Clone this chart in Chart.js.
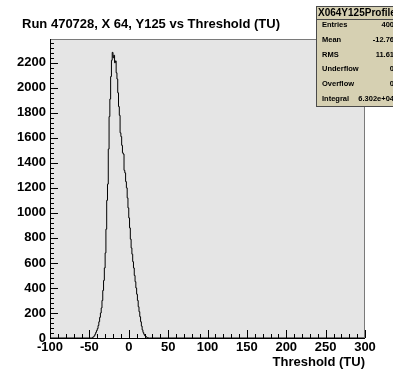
<!DOCTYPE html>
<html>
<head>
<meta charset="utf-8">
<script src="https://cdn.jsdelivr.net/npm/chart.js@4"></script>
<style>
  html, body { margin: 0; padding: 0; background: #ffffff; }
  #wrap { width: 393px; height: 377px; }
</style>
</head>
<body>
<div id="wrap"><canvas id="histo" width="393" height="377"></canvas></div>
<script>
// histogram: 1 TU wide bins, first bin low edge at -46
const firstBin = -46;
const counts = [
    0, 5, 10, 18, 30, 45, 60, 75, 100, 130,
    165, 200, 240, 300, 380, 460, 560, 680, 870, 1100,
    1230, 1510, 1770, 1910, 2090, 2220, 2283, 2240, 2260, 2200,
    2215, 2120, 2070, 1960, 1850, 1780, 1640, 1610, 1540, 1480,
    1470, 1340, 1320, 1250, 1200, 1120, 1040, 960, 880, 790,
    720, 670, 610, 560, 500, 450, 400, 350, 300, 250,
    210, 170, 130, 95, 65, 45, 30, 20, 14, 8,
    4, 2, 0
];
const xRange = [-100, 300];
const yRange = [0, 2390];
const xTicks = [-100, -50, 0, 50, 100, 150, 200, 250, 300];
const yTicks = [0, 200, 400, 600, 800, 1000, 1200, 1400, 1600, 1800, 2000, 2200];

const title = 'Run 470728, X 64, Y125 vs Threshold (TU)';
const xTitle = 'Threshold (TU)';
const statsName = 'X064Y125Profile';
const statsLabels = ['Entries', 'Mean', 'RMS', 'Underflow', 'Overflow', 'Integral'];
const statsValues = ['400', '-12.76', '11.61', '0', '0', '6.302e+04'];

const points = [{ x: xRange[0], y: 0 }];
counts.forEach(function (c, i) {
    points.push({ x: firstBin + i, y: c });
});
points.push({ x: xRange[1], y: 0 });

const FONT = '"Liberation Sans", Arial, Helvetica, sans-serif';

const rootFrame = {
    id: 'rootFrame',
    beforeDatasetsDraw(chart) {
        const a = chart.chartArea;
        const ctx = chart.ctx;
        ctx.save();
        ctx.fillStyle = '#e5e5e5';
        ctx.fillRect(a.left, a.top, a.right - a.left, a.bottom - a.top);
        ctx.restore();
    },
    afterDatasetsDraw(chart) {
        const a = chart.chartArea;
        const ctx = chart.ctx;
        const xs = chart.scales.x;
        const ys = chart.scales.y;
        ctx.save();
        // frame border
        ctx.strokeStyle = '#7a7a7a';
        ctx.lineWidth = 1;
        ctx.strokeRect(a.left + 0.5, a.top + 0.5, a.right - a.left - 1, a.bottom - a.top);
        // axes
        ctx.strokeStyle = '#000';
        ctx.beginPath();
        ctx.moveTo(a.left + 0.5, a.top);
        ctx.lineTo(a.left + 0.5, a.bottom + 0.5);
        ctx.lineTo(a.right, a.bottom + 0.5);
        ctx.stroke();
        // inside ticks, x axis (minor every 10)
        ctx.beginPath();
        for (let v = xRange[0]; v <= xRange[1]; v += 10) {
            const px = Math.round(xs.getPixelForValue(v)) + 0.5;
            const len = xTicks.includes(v) ? 8 : 4;
            ctx.moveTo(px, a.bottom);
            ctx.lineTo(px, a.bottom - len);
        }
        // inside ticks, y axis (minor every 40)
        for (let v = 0; v <= yRange[1]; v += 40) {
            const py = Math.round(ys.getPixelForValue(v)) + 0.5;
            const len = yTicks.includes(v) ? 8 : 4;
            ctx.moveTo(a.left, py);
            ctx.lineTo(a.left + len, py);
        }
        ctx.stroke();
        ctx.restore();
    },
    afterDraw(chart) {
        const ctx = chart.ctx;
        ctx.save();
        // title
        ctx.fillStyle = '#000';
        ctx.font = 'bold 13px ' + FONT;
        ctx.textAlign = 'center';
        ctx.textBaseline = 'middle';
        ctx.fillText(title, 151, 24);

        // stats box
        const bx = 316, by = 6, bw = 90, bh = 100;
        ctx.fillStyle = '#d6d0b2';
        ctx.fillRect(bx, by, bw, bh);
        ctx.strokeStyle = '#4a4a4a';
        ctx.lineWidth = 1;
        ctx.strokeRect(bx + 0.5, by + 0.5, bw, bh);
        ctx.beginPath();
        ctx.moveTo(bx, by + 13.5);
        ctx.lineTo(bx + bw, by + 13.5);
        ctx.stroke();
        ctx.fillStyle = '#000';
        ctx.font = 'bold 10px ' + FONT;
        ctx.textAlign = 'left';
        ctx.fillText(statsName, bx + 2, by + 7);
        ctx.font = 'bold 7.5px ' + FONT;
        statsLabels.forEach(function (lab, i) {
            const ty = 25 + i * 14.8;
            ctx.textAlign = 'left';
            ctx.fillText(lab, 322, ty);
            ctx.textAlign = 'right';
            ctx.fillText(statsValues[i], 394, ty);
        });
        ctx.restore();
    }
};

const plainLabel = function (v) { return String(v); };

const ctx = document.getElementById('histo').getContext('2d');
new Chart(ctx, {
    type: 'line',
    data: {
        datasets: [{
            data: points,
            stepped: 'after',
            borderColor: '#000',
            borderWidth: 1,
            pointRadius: 0,
            fill: false
        }]
    },
    options: {
        responsive: false,
        animation: false,
        events: [],
        layout: { padding: { top: 39, right: 28, left: 0, bottom: 0 } },
        plugins: { legend: { display: false }, tooltip: { enabled: false } },
        scales: {
            x: {
                type: 'linear',
                min: xRange[0],
                max: xRange[1],
                border: { display: false },
                grid: { display: false, drawTicks: false },
                ticks: {
                    autoSkip: false,
                    maxRotation: 0,
                    padding: 2,
                    color: '#000',
                    callback: plainLabel,
                    font: { family: FONT, size: 13, weight: 'bold' }
                },
                afterBuildTicks(scale) {
                    scale.ticks = xTicks.map(function (v) { return { value: v }; });
                },
                title: {
                    display: true,
                    text: xTitle,
                    align: 'end',
                    color: '#000',
                    font: { family: FONT, size: 13, weight: 'bold' },
                    padding: { top: 0, bottom: 7 }
                },
                afterFit(scale) { scale.height = 39; }
            },
            y: {
                min: yRange[0],
                max: yRange[1],
                border: { display: false },
                grid: { display: false, drawTicks: false },
                ticks: {
                    autoSkip: false,
                    padding: 4,
                    color: '#000',
                    callback: plainLabel,
                    font: { family: FONT, size: 13, weight: 'bold' }
                },
                afterBuildTicks(scale) {
                    scale.ticks = yTicks.map(function (v) { return { value: v }; });
                },
                afterFit(scale) { scale.width = 50; }
            }
        }
    },
    plugins: [rootFrame]
});
</script>
</body>
</html>
